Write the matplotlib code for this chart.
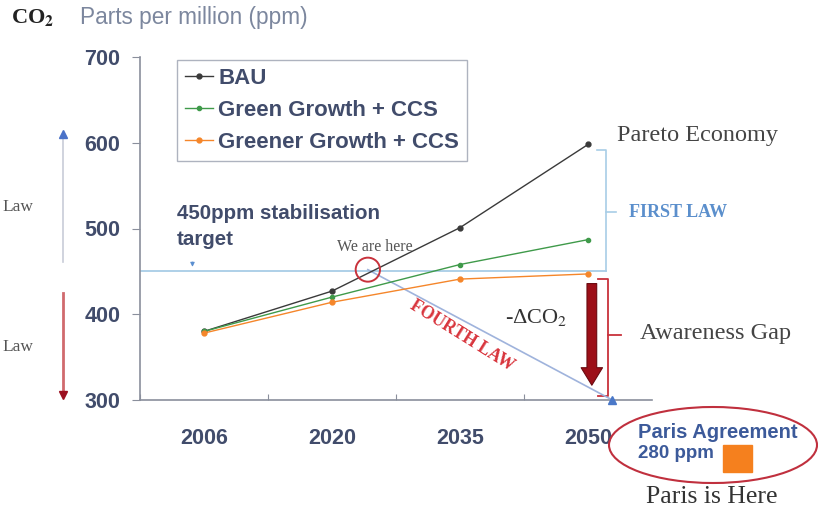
import matplotlib
matplotlib.use("Agg")
import matplotlib.pyplot as plt
from matplotlib.patches import Ellipse, Rectangle

plt.rcParams["mathtext.fontset"] = "stix"

# scenario values, ppm CO2
years = ["2006", "2020", "2035", "2050"]
bau = [380, 427, 501, 598]
green_ccs = [380, 420, 458, 487]
greener_ccs = [378, 414, 441, 447]
target = 450
paris_ppm = 280

SANS = "Liberation Sans"
SERIF = "Liberation Serif"
TXT = "#414c6b"

W, H = 818, 516
fig = plt.figure(figsize=(W / 100, H / 100), dpi=100)
ax = fig.add_axes([140 / W, 1 - 400 / H, 512 / W, 343 / H])


def px(x, y):
    # figure pixel position (from top-left) -> figure fraction
    return x / W, 1 - y / H


x = list(range(len(years)))
ax.plot(x, bau, color="#3a3a3a", lw=1.0, marker="o", ms=3.5, label="BAU", zorder=4)
ax.plot(x, green_ccs, color="#3f9a4a", lw=1.0, marker="o", ms=3.0,
        label="Green Growth + CCS", zorder=4)
ax.plot(x, greener_ccs, color="#f5862a", lw=1.0, marker="o", ms=3.5,
        label="Greener Growth + CCS", zorder=4)

ax.set_xlim(-0.5, 3.5)
ax.set_ylim(300, 700)
ax.set_yticks([300, 400, 500, 600, 700])
ax.set_xticks([-0.5, 0.5, 1.5, 2.5])
ax.set_xticklabels([])
ax.set_xticks(x, minor=True)
ax.set_xticklabels(years, minor=True)
ax.tick_params(axis="x", which="minor", length=0, pad=20)
ax.tick_params(axis="x", which="major", length=4, direction="in", color="#8a8f9c")
ax.tick_params(axis="y", length=6, color="#8a8f9c", pad=8)
for lab in ax.get_yticklabels() + ax.get_xticklabels(minor=True):
    lab.set_fontfamily(SANS)
    lab.set_fontweight("bold")
    lab.set_fontsize(15.5)
    lab.set_color(TXT)
for s in ("top", "right"):
    ax.spines[s].set_visible(False)
for s in ("left", "bottom"):
    ax.spines[s].set_color("#8a8f9c")
    ax.spines[s].set_linewidth(1.2)

leg = ax.legend(loc="upper left", bbox_to_anchor=(177 / W, 1 - 60 / H),
                bbox_transform=fig.transFigure, frameon=True, fancybox=False,
                handlelength=1.25, handletextpad=0.25, borderpad=0.35,
                labelspacing=0.5, borderaxespad=0,
                prop={"family": SANS, "weight": "bold", "size": 16})
leg.get_frame().set_edgecolor("#9aa0b0")
leg.get_frame().set_linewidth(1.0)
for t in leg.get_texts():
    t.set_color(TXT)

# 450 ppm stabilisation line
ax.plot([-0.5, 3.14], [target, target], color="#a8cde6", lw=1.3, zorder=2)
ax.annotate("", xy=(-0.09, target + 2), xytext=(-0.09, target + 14),
            arrowprops=dict(arrowstyle="-|>", color="#5b8fd0", lw=0.8,
                            mutation_scale=6))
fig.text(*px(177, 213), "450ppm stabilisation", family=SANS, weight="bold",
         size=14.8, color=TXT, va="center")
fig.text(*px(177, 240), "target", family=SANS, weight="bold",
         size=14.8, color=TXT, va="center")

# we are here
ax.add_patch(Ellipse((1.28, 452), 0.19, 28, fill=False, ec="#c8323c",
                     lw=1.4, zorder=5))
fig.text(*px(337, 247), "We are here", family=SERIF, size=11.5, color="#555555",
         va="center")

# fourth law diagonal down to the Paris level
ax.plot([1.28, 3.19], [452, 300], color="#9fb3dc", lw=1.2, clip_on=False,
        zorder=3)
ax.plot([3.19], [300], marker="^", color="#4a78c8", ms=6, clip_on=False,
        zorder=6)
fig.text(*px(462, 336), "FOURTH LAW", family=SERIF, weight="bold", size=12.7,
         color="#d8343c", rotation=-32, ha="center", va="center")

# gap arrow
ax.annotate("", xy=(3.03, 314), xytext=(3.03, 439),
            arrowprops=dict(arrowstyle="simple,head_length=0.9,head_width=1.1,tail_width=0.5",
                            fc="#9c0f18", ec="#6a0a10", lw=0.8, mutation_scale=14),
            annotation_clip=False, zorder=6)
fig.text(*px(505, 318), "-ΔCO$_2$", family=SERIF, size=16, color="#333333",
         va="center")

# first law bracket
ax.plot([3.07, 3.14, 3.14], [592, 592, target], color="#a8cde6", lw=1.2,
        clip_on=False)
ax.plot([3.14, 3.22], [519, 519], color="#a8cde6", lw=1.2, clip_on=False)
fig.text(*px(629, 212), "FIRST LAW", family=SERIF, weight="bold", size=13,
         color="#5b8fcc", va="center")
fig.text(*px(617, 135), "Pareto Economy", family=SERIF, size=17.5,
         color="#444444", va="center")

# awareness gap bracket
ax.plot([3.08, 3.16, 3.16, 3.08], [441, 441, 305, 305], color="#c8323c",
        lw=1.3, clip_on=False)
ax.plot([3.16, 3.26], [376, 376], color="#c8323c", lw=1.3, clip_on=False)
fig.text(*px(640, 333), "Awareness Gap", family=SERIF, size=17.5,
         color="#444444", va="center")

# left side law arrows
fig.add_artist(plt.Line2D([63 / W, 63 / W], [1 - 262 / H, 1 - 135 / H],
                          color="#c8ccd8", lw=1.2))
fig.add_artist(plt.Line2D([63 / W], [1 - 134 / H], marker="^", color="#4a72c8",
                          ms=6))
fig.add_artist(plt.Line2D([63 / W, 63 / W], [1 - 293 / H, 1 - 392 / H],
                          color="#d06a6e", lw=2))
fig.add_artist(plt.Line2D([63 / W], [1 - 395 / H], marker="v", color="#9c1020",
                          ms=6))
fig.text(*px(2, 207), "Law", family=SERIF, size=12.5, color="#555555", va="center")
fig.text(*px(2, 347), "Law", family=SERIF, size=12.5, color="#555555", va="center")

# headline
fig.text(*px(11, 17), "CO$_\\mathbf{2}$", family=SERIF, weight="bold", size=16,
         color="#222222", va="center")
fig.text(*px(80, 17), "Parts per million (ppm)", family=SANS, size=16.3,
         color="#7c879e", va="center")

# Paris agreement callout
fig.add_artist(Ellipse(px(713, 445), 208 / W, 76 / H, fill=False,
                       ec="#c0303e", lw=1.5))
fig.text(*px(638, 432), "Paris Agreement", family=SANS, weight="bold",
         size=14.5, color="#3c5a9a", va="center")
fig.text(*px(638, 454), f"{paris_ppm} ppm", family=SANS, weight="bold",
         size=13.5, color="#3c5a9a", va="center")
fig.add_artist(Rectangle(px(723, 472), 29 / W, 27 / H, color="#f5801e"))
fig.text(*px(646, 497), "Paris is Here", family=SERIF, size=18.5,
         color="#333333", va="center")

fig.savefig("out.png", dpi=100)
